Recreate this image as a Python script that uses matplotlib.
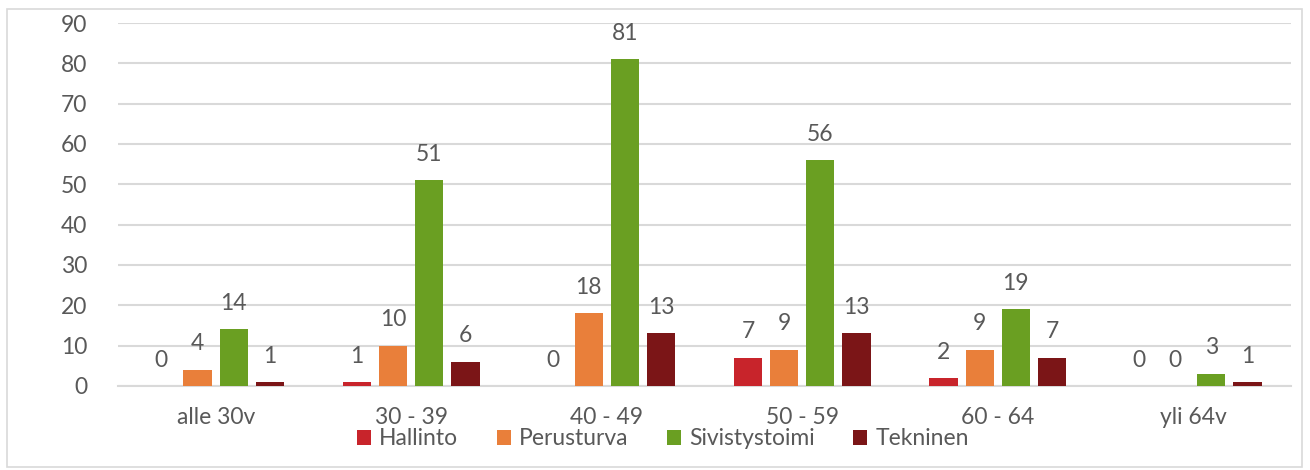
import matplotlib.pyplot as plt
from matplotlib.patches import Rectangle
import numpy as np

plt.rcParams['font.family'] = ['Lato', 'DejaVu Sans']

ryhmat = ["alle 30v", "30 - 39", "40 - 49", "50 - 59", "60 - 64", "yli 64v"]
sarjat = ["Hallinto", "Perusturva", "Sivistystoimi", "Tekninen"]
hallinto = [0, 1, 0, 7, 2, 0]
perusturva = [4, 10, 18, 9, 9, 0]
sivistystoimi = [14, 51, 81, 56, 19, 3]
tekninen = [1, 6, 13, 13, 7, 1]
varit = ["#C8242B", "#E97F3A", "#6A9F22", "#7B1517"]

arvot = [hallinto, perusturva, sivistystoimi, tekninen]
teksti = "#595959"

fig = plt.figure(figsize=(13.1, 4.7), dpi=100)
ax = fig.add_axes([0.090, 0.179, 0.8955, 0.772])

# kehys kuvan ympärille
fig.patches.append(Rectangle((0.005, 0.006), 0.989, 0.975, transform=fig.transFigure,
                             fill=False, edgecolor="#D9D9D9", linewidth=1.2))

x = np.arange(len(ryhmat))
leveys = 0.144
askel = 0.185
for i, (nimi, data, vari) in enumerate(zip(sarjat, arvot, varit)):
    pos = x + (i - 1.5) * askel
    palkit = ax.bar(pos, data, width=leveys, color=vari, label=nimi, zorder=3)
    ax.bar_label(palkit, labels=[str(v) for v in data], padding=11,
                 fontsize=16.5, color=teksti)

ax.set_xlim(-0.5, len(ryhmat) - 0.5)
ax.set_ylim(0, 90)
ax.set_yticks(range(0, 91, 10))
ax.set_xticks(x)
ax.set_xticklabels(ryhmat)
ax.tick_params(axis="both", length=0, labelsize=16.5, labelcolor=teksti)
ax.tick_params(axis="x", pad=15)
ax.tick_params(axis="y", pad=22)
ax.grid(axis="y", color="#D9D9D9", linewidth=1.5, zorder=0)
for s in ["top", "right", "left"]:
    ax.spines[s].set_visible(False)
ax.spines["bottom"].set_color("#D9D9D9")
ax.spines["bottom"].set_linewidth(1.5)

leg = fig.legend(loc="center", bbox_to_anchor=(0.506, 0.066), ncol=4, frameon=False,
                 fontsize=16.5, handlelength=0.6, handleheight=0.6, handletextpad=0.35,
                 columnspacing=1.7, labelcolor=teksti)

fig.savefig("out.png", dpi=100)
